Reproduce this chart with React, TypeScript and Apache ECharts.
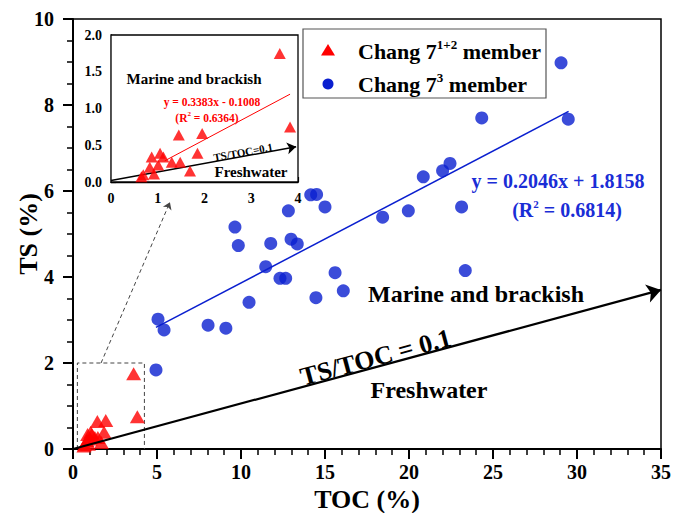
import React, { useEffect, useRef } from 'react';
import * as echarts from 'echarts';

const FONT = 'Liberation Serif';
const RED = '#ff0000';
const BLUE = '#0a1fcf';
const BLUE_TEXT = '#1a2dd6';

// Chang 7^(1+2) member (red triangles)
const chang712TOC = [3.61, 3.83, 1.45, 1.95, 1.85, 1.69, 1.48, 1.3, 1.05, 1.12, 0.87, 0.83, 1.01, 0.92, 0.69, 0.65];
const chang712TS = [1.75, 0.75, 0.64, 0.66, 0.39, 0.15, 0.27, 0.27, 0.39, 0.34, 0.34, 0.2, 0.23, 0.11, 0.1, 0.07];

// Chang 7^3 member (blue circles)
const chang73TOC = [4.94, 5.06, 5.42, 8.04, 9.1, 9.64, 9.84, 10.48, 11.47, 11.77, 12.32, 12.66, 12.82, 12.98, 13.35, 14.15, 14.5, 14.46, 15.0, 15.6, 16.09, 18.43, 19.96, 20.85, 22.0, 22.44, 23.13, 23.35, 24.33, 29.05, 29.48];
const chang73TS = [1.84, 3.02, 2.77, 2.88, 2.81, 5.16, 4.73, 3.41, 4.24, 4.78, 3.97, 3.97, 5.54, 4.88, 4.77, 5.91, 5.92, 3.52, 5.63, 4.1, 3.68, 5.39, 5.54, 6.33, 6.47, 6.64, 5.63, 4.15, 7.7, 8.98, 7.67];

// Regression lines (as printed on the chart) and their x-extent
const fit73 = { slope: 0.2046, intercept: 1.8158, xFrom: 4.94, xTo: 29.5 };
const fit712 = { slope: 0.3383, intercept: -0.1008, xFrom: 1.15, xTo: 3.83 };

// TS/TOC = 0.1 boundary arrows (as drawn)
const boundaryMainTOC = [0, 35];
const boundaryMainTS = [0, 3.7];
const boundaryInsetTOC = [0, 3.96];
const boundaryInsetTS = [0.02, 0.48];

// Zoom box and pointer arrow in the main panel
const zoomBoxTOC = [0.26, 4.25];
const zoomBoxTS = [0, 2];
const zoomArrowTOC = [1.67, 5.77];
const zoomArrowTS = [2.0, 5.74];

// Axes
const mainX = { min: 0, max: 35, interval: 5 };
const mainY = { min: 0, max: 10, interval: 2 };
const insetX = { min: 0, max: 4, interval: 1 };
const insetY = { min: 0, max: 2, interval: 0.5 };

const fitLine = (f: { slope: number; intercept: number; xFrom: number; xTo: number }) => [
  [f.xFrom, f.slope * f.xFrom + f.intercept],
  [f.xTo, f.slope * f.xTo + f.intercept],
];

const bold = (size: number, color = '#000') => ({
  fontSize: size,
  fontWeight: 'bold' as const,
  fontFamily: FONT,
  color,
});

function mainAxis(cfg: any, name: string, isY: boolean) {
  return {
    type: 'value',
    gridIndex: 0,
    min: cfg.min,
    max: cfg.max,
    interval: cfg.interval,
    axisLine: { show: true, onZero: false, lineStyle: { color: '#000', width: 2 } },
    axisTick: { show: true, inside: false, length: 10, lineStyle: { color: '#000', width: 2 } },
    minorTick: { show: true, splitNumber: isY ? 4 : 5, length: 6, lineStyle: { color: '#000', width: 1.5 } },
    splitLine: { show: false },
    minorSplitLine: { show: false },
    axisLabel: { ...bold(20), margin: isY ? 19 : 13 },
    name,
    nameLocation: 'middle',
    nameGap: isY ? 32 : 37,
    nameMoveOverlap: false,
    nameTextStyle: bold(26),
  };
}

function insetAxis(cfg: any, isY: boolean) {
  return {
    type: 'value',
    gridIndex: 1,
    min: cfg.min,
    max: cfg.max,
    interval: cfg.interval,
    axisLine: { show: true, onZero: false, lineStyle: { color: '#000', width: 1.3 } },
    axisTick: { show: true, inside: true, length: 5, lineStyle: { color: '#000', width: 1.2 } },
    minorTick: { show: true, splitNumber: 5, length: 3, lineStyle: { color: '#000', width: 1 } },
    splitLine: { show: false },
    minorSplitLine: { show: false },
    axisLabel: {
      ...bold(14),
      margin: 9,
      formatter: isY ? (v: number) => v.toFixed(1) : (v: number) => String(v),
    },
  };
}

function txt(x: number, y: number, text: string, size: number, color = '#000', extra: any = {}) {
  return {
    type: 'text',
    x,
    y,
    z: 100,
    rotation: extra.rotation || 0,
    style: {
      text,
      fill: color,
      fontSize: size,
      fontWeight: 'bold',
      fontFamily: FONT,
      align: extra.align || 'center',
      textAlign: extra.align || 'center',
      verticalAlign: extra.verticalAlign || 'middle',
      textVerticalAlign: extra.verticalAlign || 'middle',
      rich: extra.rich,
    },
  };
}

export default function App() {
  const ref = useRef<HTMLDivElement>(null);

  useEffect(() => {
    if (!ref.current) return;
    const chart = echarts.init(ref.current, null, { renderer: 'svg' });

    const redData = chang712TOC.map((x, i) => [x, chang712TS[i]]);
    const blueData = chang73TOC.map((x, i) => [x, chang73TS[i]]);
    const zoomBox = [
      [zoomBoxTOC[0], zoomBoxTS[0]],
      [zoomBoxTOC[0], zoomBoxTS[1]],
      [zoomBoxTOC[1], zoomBoxTS[1]],
      [zoomBoxTOC[1], zoomBoxTS[0]],
    ];

    const supRich = (base: number, sup: number, color: string) => ({
      b: { fontSize: base, fontWeight: 'bold', fontFamily: FONT, color, lineHeight: base + 4 },
      s: { fontSize: sup, fontWeight: 'bold', fontFamily: FONT, color, lineHeight: sup, verticalAlign: 'top' },
    });

    const option: any = {
      animation: false,
      backgroundColor: '#fff',
      textStyle: { fontFamily: FONT },
      grid: [
        { left: 73, top: 19, right: 12, bottom: 64, outerBoundsMode: 'none', containLabel: false, show: true, borderColor: '#000', borderWidth: 1.5, backgroundColor: 'transparent' },
        { left: 111, top: 35, width: 187, height: 147, outerBoundsMode: 'none', containLabel: false, show: true, borderColor: '#000', borderWidth: 1.3, backgroundColor: '#fff', z: 4 },
      ],
      xAxis: [mainAxis(mainX, 'TOC (%)', false), insetAxis(insetX, false)],
      yAxis: [mainAxis(mainY, 'TS (%)', true), insetAxis(insetY, true)],
      series: [
        {
          name: 'Chang 7 1+2 member',
          type: 'scatter',
          xAxisIndex: 0,
          yAxisIndex: 0,
          symbol: 'triangle',
          symbolSize: [15, 13],
          itemStyle: { color: RED },
          data: redData,
          z: 3,
          clip: false,
        },
        {
          name: 'Chang 7 3 member',
          type: 'scatter',
          xAxisIndex: 0,
          yAxisIndex: 0,
          symbol: 'circle',
          symbolSize: 13,
          itemStyle: { color: BLUE },
          data: blueData,
          z: 3,
        },
        {
          type: 'line',
          xAxisIndex: 0,
          yAxisIndex: 0,
          data: fitLine(fit73),
          showSymbol: false,
          symbol: 'none',
          lineStyle: { color: BLUE, width: 1.5 },
          z: 2,
        },
        {
          type: 'line',
          xAxisIndex: 0,
          yAxisIndex: 0,
          data: zoomBox,
          showSymbol: false,
          symbol: 'none',
          lineStyle: { color: '#444', width: 1, type: [4, 3] },
          z: 2,
          markLine: {
            silent: true,
            animation: false,
            symbol: ['none', 'arrow'],
            symbolSize: 14,
            label: { show: false },
            lineStyle: { color: '#000', width: 2.2, type: 'solid' },
            data: [
              [
                { coord: [boundaryMainTOC[0], boundaryMainTS[0]] },
                { coord: [boundaryMainTOC[1], boundaryMainTS[1]] },
              ],
              [
                { coord: [zoomArrowTOC[0], zoomArrowTS[0]], lineStyle: { color: '#444', width: 1, type: [4, 3] } },
                { coord: [zoomArrowTOC[1], zoomArrowTS[1]], symbolSize: 7 },
              ],
            ],
          },
        },
        {
          type: 'scatter',
          xAxisIndex: 1,
          yAxisIndex: 1,
          symbol: 'triangle',
          symbolSize: [12, 11],
          itemStyle: { color: RED },
          data: redData,
          z: 6,
        },
        {
          type: 'line',
          xAxisIndex: 1,
          yAxisIndex: 1,
          data: fitLine(fit712),
          showSymbol: false,
          symbol: 'none',
          lineStyle: { color: RED, width: 1 },
          z: 6,
          markLine: {
            silent: true,
            animation: false,
            symbol: ['none', 'arrow'],
            symbolSize: 9,
            label: { show: false },
            lineStyle: { color: '#000', width: 1.5, type: 'solid' },
            data: [
              [
                { coord: [boundaryInsetTOC[0], boundaryInsetTS[0]] },
                { coord: [boundaryInsetTOC[1], boundaryInsetTS[1]] },
              ],
            ],
          },
        },
      ],
      graphic: [
        {
          type: 'rect',
          z: 90,
          shape: { x: 303, y: 29, width: 243, height: 69 },
          style: { fill: '#fff', stroke: '#555', lineWidth: 1.2 },
        },
        {
          type: 'polygon',
          z: 100,
          shape: { points: [[321, 55.5], [335, 55.5], [328, 44]] },
          style: { fill: RED },
        },
        { type: 'circle', z: 100, shape: { cx: 328, cy: 84, r: 5.5 }, style: { fill: BLUE } },
        txt(358, 51, '{b|Chang 7}{s|1+2}{b| member}', 22, '#000', { align: 'left', rich: supRich(22, 13, '#000') }),
        txt(358, 84, '{b|Chang 7}{s|3}{b| member}', 22, '#000', { align: 'left', rich: supRich(22, 13, '#000') }),
        // main annotations
        txt(476, 294, 'Marine and brackish', 24),
        txt(429, 390, 'Freshwater', 24),
        txt(379, 370, 'TS/TOC = 0.1', 26, '#000', { rotation: 0.263, verticalAlign: 'bottom' }),
        txt(558, 181, 'y = 0.2046x + 1.8158', 20, BLUE_TEXT),
        txt(567, 210, '{b|(R}{s|2}{b| = 0.6814)}', 20, BLUE_TEXT, { rich: supRich(20, 11, BLUE_TEXT) }),
        // inset annotations
        txt(194, 79, 'Marine and brackish', 15),
        txt(251, 172, 'Freshwater', 15),
        txt(212, 102, 'y = 0.3383x - 0.1008', 11.5, RED),
        txt(207, 118, '{b|(R}{s|2}{b| = 0.6364)}', 11.5, RED, { rich: supRich(11.5, 7, RED) }),
        txt(244, 157.5, 'TS/TOC=0.1', 11, '#000', { rotation: 0.18, verticalAlign: 'bottom' }),
      ],
    };

    chart.setOption(option);
    return () => chart.dispose();
  }, []);

  return <div ref={ref} style={{ position: 'fixed', left: 0, top: 0, width: 673, height: 513 }} />;
}
